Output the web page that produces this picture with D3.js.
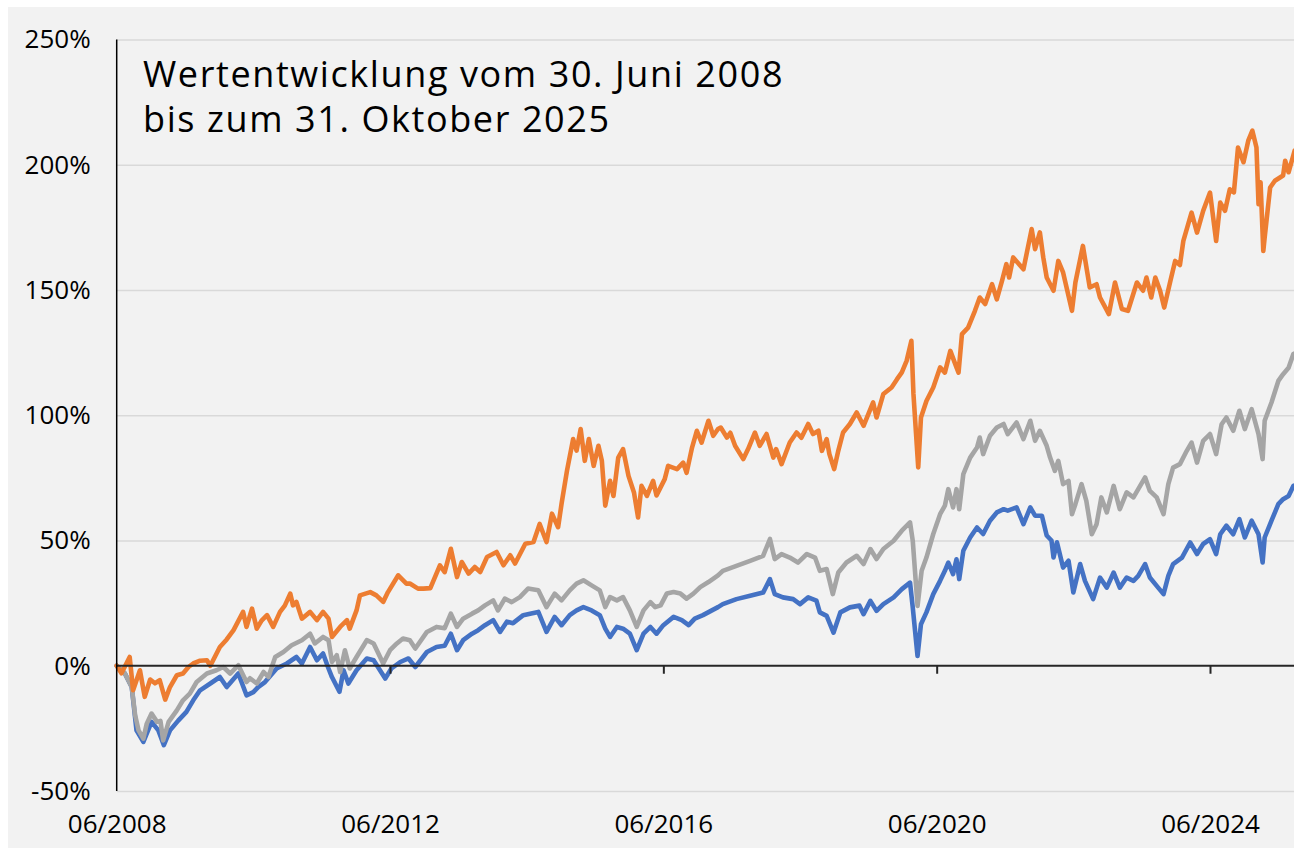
<!DOCTYPE html>
<html>
<head>
<meta charset="utf-8">
<script src="https://cdn.jsdelivr.net/npm/d3@7"></script>
<style>
  html, body { margin: 0; padding: 0; background: #fff; }
  svg { display: block; font-family: "Open Sans", sans-serif; }
  .grid line { stroke: #d9d9d9; stroke-width: 1.3; }
  .label text { font-family: "Open Sans", sans-serif; font-size: 26px; fill: #000; }
  .title { font-family: "Open Sans", sans-serif; font-size: 36px; letter-spacing: 1.6px; fill: #000; }
  .series { fill: none; stroke-width: 4.6; stroke-linejoin: round; stroke-linecap: round; }
</style>
</head>
<body>
<div id="chart"></div>
<script>
  // decimal year, percent
  var orange = [
    [2008.50, 0], [2008.57, -3.0], [2008.69, 3.5], [2008.74, -9.8], [2008.84, -1.8], [2008.91, -12.4],
    [2008.99, -5.5], [2009.06, -7.0], [2009.13, -5.8], [2009.21, -13.5], [2009.28, -8.5], [2009.38, -3.8],
    [2009.47, -3.1], [2009.55, -0.5], [2009.62, 0.9], [2009.72, 2.0], [2009.82, 2.2], [2009.87, 0.0],
    [2010.01, 7.5], [2010.11, 10.5], [2010.21, 14.2], [2010.35, 21.5], [2010.40, 15.5], [2010.48, 22.8],
    [2010.55, 14.8], [2010.62, 18.0], [2010.70, 20.2], [2010.79, 15.5], [2010.89, 21.5], [2010.96, 24.0],
    [2011.04, 28.8], [2011.08, 24.1], [2011.13, 25.5], [2011.21, 18.8], [2011.33, 21.5], [2011.43, 18.2],
    [2011.52, 21.5], [2011.60, 18.8], [2011.65, 11.5], [2011.77, 15.5], [2011.87, 18.2], [2011.91, 14.8],
    [2012.01, 22.1], [2012.06, 28.1], [2012.21, 29.4], [2012.30, 28.1], [2012.40, 25.5], [2012.47, 29.4],
    [2012.62, 36.1], [2012.74, 32.8], [2012.79, 32.8], [2012.91, 30.8], [2012.99, 30.8], [2013.09, 31.0],
    [2013.23, 40.1], [2013.30, 37.4], [2013.39, 46.7], [2013.48, 35.4], [2013.55, 41.4], [2013.65, 36.8],
    [2013.74, 39.4], [2013.82, 37.4], [2013.92, 43.4], [2014.06, 45.4], [2014.16, 40.1], [2014.26, 44.1],
    [2014.33, 40.8], [2014.48, 48.7], [2014.60, 49.4], [2014.69, 56.6], [2014.79, 49.4], [2014.87, 60.7],
    [2014.96, 55.3], [2015.01, 64.6], [2015.09, 77.9], [2015.18, 90.5], [2015.23, 85.9], [2015.29, 94.5],
    [2015.35, 81.8], [2015.41, 90.5], [2015.48, 79.8], [2015.55, 87.8], [2015.60, 81.8], [2015.65, 63.9],
    [2015.72, 73.8], [2015.77, 67.8], [2015.84, 83.1], [2015.91, 86.5], [2015.99, 75.8], [2016.07, 69.2],
    [2016.13, 59.2], [2016.18, 71.8], [2016.26, 67.8], [2016.35, 73.8], [2016.40, 68.0], [2016.52, 74.5],
    [2016.57, 79.8], [2016.70, 78.5], [2016.79, 81.1], [2016.84, 77.0], [2016.92, 87.1], [2016.99, 93.8],
    [2017.06, 89.1], [2017.16, 97.8], [2017.23, 91.8], [2017.30, 94.5], [2017.34, 95.1], [2017.43, 91.1],
    [2017.48, 93.0], [2017.55, 87.8], [2017.67, 82.5], [2017.74, 86.5], [2017.84, 93.1], [2017.91, 87.8],
    [2018.01, 92.5], [2018.11, 83.1], [2018.15, 86.5], [2018.23, 80.5], [2018.35, 89.1], [2018.45, 93.1],
    [2018.52, 91.0], [2018.62, 96.5], [2018.69, 92.5], [2018.77, 93.8], [2018.82, 85.8], [2018.89, 90.5],
    [2018.93, 84.5], [2019.00, 78.5], [2019.06, 85.8], [2019.13, 93.1], [2019.23, 96.5], [2019.33, 101.1],
    [2019.43, 95.8], [2019.57, 105.1], [2019.62, 99.1], [2019.72, 108.5], [2019.84, 111.1], [2019.92, 114.4],
    [2019.99, 117.1], [2020.06, 121.7], [2020.13, 129.7], [2020.16, 108.5], [2020.23, 79.2], [2020.27, 99.1],
    [2020.35, 105.7], [2020.45, 111.1], [2020.55, 119.1], [2020.62, 117.0], [2020.70, 125.7], [2020.79, 119.1],
    [2020.82, 117.0], [2020.87, 132.4], [2020.96, 135.0], [2021.06, 141.7], [2021.13, 147.0], [2021.21, 144.4],
    [2021.31, 152.3], [2021.38, 146.3], [2021.46, 154.0], [2021.52, 160.3], [2021.56, 155.0], [2021.62, 163.0],
    [2021.77, 158.3], [2021.89, 174.3], [2021.94, 166.3], [2022.01, 173.0], [2022.06, 163.0], [2022.11, 155.0],
    [2022.21, 149.7], [2022.28, 161.6], [2022.35, 157.0], [2022.48, 141.7], [2022.53, 153.0], [2022.64, 167.6],
    [2022.74, 151.0], [2022.84, 152.3], [2022.89, 147.0], [2023.02, 140.4], [2023.11, 153.0], [2023.21, 142.4],
    [2023.30, 141.7], [2023.43, 153.0], [2023.52, 149.7], [2023.57, 155.0], [2023.64, 147.0], [2023.70, 155.0],
    [2023.77, 149.7], [2023.83, 143.0], [2023.92, 153.6], [2023.99, 161.6], [2024.06, 160.0], [2024.11, 169.6],
    [2024.23, 180.9], [2024.31, 172.9], [2024.40, 181.6], [2024.50, 188.9], [2024.59, 169.6], [2024.65, 184.9],
    [2024.72, 181.6], [2024.79, 190.2], [2024.85, 189.0], [2024.91, 206.9], [2024.99, 201.0], [2025.06, 209.6],
    [2025.12, 213.6], [2025.18, 206.9], [2025.21, 184.3], [2025.24, 193.0], [2025.28, 165.6], [2025.30, 171.0],
    [2025.38, 190.9], [2025.45, 193.6], [2025.57, 195.7], [2025.60, 201.6], [2025.65, 197.0], [2025.74, 205.7],
    [2025.83, 207.0]
  ];

  var gray = [
    [2008.50, 0], [2008.62, -3.1], [2008.72, -8.5], [2008.77, -19.8], [2008.82, -25.8], [2008.89, -29.1],
    [2008.94, -23.1], [2009.01, -19.1], [2009.09, -22.4], [2009.14, -22.0], [2009.18, -29.8], [2009.26, -22.4],
    [2009.38, -17.8], [2009.47, -13.8], [2009.57, -11.1], [2009.67, -6.5], [2009.82, -3.1], [2009.96, -1.8],
    [2010.06, -0.5], [2010.16, -3.1], [2010.28, 0.2], [2010.40, -6.5], [2010.45, -5.0], [2010.55, -7.1],
    [2010.65, -2.5], [2010.72, -4.5], [2010.82, 3.5], [2010.94, 5.5], [2011.06, 8.2], [2011.21, 10.2],
    [2011.33, 12.8], [2011.40, 8.9], [2011.52, 11.5], [2011.60, 10.2], [2011.65, 1.5], [2011.72, 4.2],
    [2011.77, -2.5], [2011.84, 6.2], [2011.91, -1.1], [2012.01, 3.5], [2012.16, 10.2], [2012.26, 8.9],
    [2012.40, 0.9], [2012.50, 6.2], [2012.60, 8.9], [2012.69, 10.9], [2012.79, 10.2], [2012.87, 6.9],
    [2013.04, 13.5], [2013.18, 15.5], [2013.30, 15.0], [2013.39, 20.8], [2013.48, 15.5], [2013.57, 18.8],
    [2013.70, 20.8], [2013.79, 22.1], [2013.89, 24.1], [2014.01, 26.1], [2014.08, 22.1], [2014.18, 26.8],
    [2014.28, 25.4], [2014.40, 27.4], [2014.52, 30.8], [2014.67, 30.1], [2014.79, 23.4], [2014.91, 28.8],
    [2015.01, 26.1], [2015.13, 30.1], [2015.23, 32.8], [2015.33, 34.1], [2015.45, 32.1], [2015.57, 30.1],
    [2015.65, 23.4], [2015.72, 27.4], [2015.82, 26.1], [2015.91, 27.4], [2016.01, 22.1], [2016.11, 15.5],
    [2016.21, 22.1], [2016.31, 25.4], [2016.38, 23.4], [2016.46, 24.1], [2016.55, 28.8], [2016.65, 29.4],
    [2016.75, 28.8], [2016.84, 26.8], [2016.94, 28.8], [2017.04, 31.4], [2017.16, 33.4], [2017.30, 36.1],
    [2017.37, 37.9], [2017.57, 39.9], [2017.77, 41.9], [2017.96, 43.9], [2018.06, 50.6], [2018.13, 42.6],
    [2018.23, 44.6], [2018.35, 43.2], [2018.47, 41.2], [2018.60, 44.6], [2018.72, 43.2], [2018.79, 37.9],
    [2018.89, 38.6], [2018.98, 28.6], [2019.06, 37.2], [2019.18, 41.2], [2019.33, 43.9], [2019.43, 40.6],
    [2019.53, 46.6], [2019.62, 42.6], [2019.72, 46.6], [2019.87, 49.9], [2019.99, 53.9], [2020.11, 57.2],
    [2020.15, 49.9], [2020.22, 23.9], [2020.28, 37.9], [2020.35, 43.2], [2020.45, 52.6], [2020.55, 60.5],
    [2020.62, 63.9], [2020.67, 70.5], [2020.74, 63.2], [2020.79, 70.5], [2020.83, 62.5], [2020.89, 76.5],
    [2020.99, 83.1], [2021.09, 87.1], [2021.13, 91.1], [2021.18, 84.5], [2021.28, 91.8], [2021.38, 95.1],
    [2021.48, 96.5], [2021.54, 92.5], [2021.67, 97.1], [2021.77, 90.5], [2021.87, 97.8], [2021.94, 89.8],
    [2022.01, 93.8], [2022.11, 87.8], [2022.16, 83.1], [2022.23, 77.8], [2022.28, 81.8], [2022.35, 72.5],
    [2022.43, 73.8], [2022.48, 60.5], [2022.53, 64.5], [2022.62, 72.5], [2022.69, 65.8], [2022.77, 52.5],
    [2022.84, 56.5], [2022.91, 67.2], [2022.99, 61.2], [2023.09, 71.8], [2023.18, 62.5], [2023.28, 69.2],
    [2023.38, 67.2], [2023.45, 70.5], [2023.55, 75.2], [2023.62, 69.8], [2023.72, 67.2], [2023.82, 60.5],
    [2023.89, 72.5], [2023.96, 79.1], [2024.06, 80.5], [2024.16, 85.8], [2024.23, 89.1], [2024.31, 81.1],
    [2024.40, 89.8], [2024.50, 92.5], [2024.59, 84.5], [2024.67, 96.4], [2024.74, 99.1], [2024.84, 93.8],
    [2024.93, 101.8], [2025.01, 94.5], [2025.11, 102.4], [2025.21, 92.5], [2025.27, 82.5], [2025.30, 97.8],
    [2025.40, 105.1], [2025.50, 113.7], [2025.57, 116.4], [2025.65, 119.0], [2025.72, 124.4], [2025.83, 126.0]
  ];

  var blue = [
    [2008.50, 0], [2008.62, -3.1], [2008.72, -8.5], [2008.79, -25.8], [2008.89, -30.4], [2009.01, -22.4],
    [2009.11, -25.8], [2009.19, -31.7], [2009.28, -25.8], [2009.40, -21.9], [2009.52, -18.4], [2009.62, -13.8],
    [2009.72, -9.8], [2009.87, -7.1], [2010.01, -4.5], [2010.11, -8.5], [2010.28, -3.1], [2010.40, -11.8],
    [2010.50, -10.5], [2010.57, -8.5], [2010.67, -6.5], [2010.84, -1.1], [2010.99, 0.9], [2011.13, 3.5],
    [2011.21, 0.9], [2011.33, 7.5], [2011.43, 2.2], [2011.52, 4.9], [2011.60, -1.1], [2011.65, -4.5],
    [2011.76, -10.4], [2011.82, -1.8], [2011.89, -7.1], [2012.01, -1.8], [2012.16, 2.9], [2012.26, 2.2],
    [2012.43, -5.1], [2012.52, -1.1], [2012.65, 1.5], [2012.77, 2.9], [2012.87, -0.5], [2013.04, 5.5],
    [2013.18, 7.5], [2013.30, 8.0], [2013.39, 12.8], [2013.48, 6.2], [2013.57, 10.2], [2013.70, 12.8],
    [2013.79, 14.2], [2013.89, 16.2], [2014.01, 18.2], [2014.11, 13.5], [2014.21, 17.6], [2014.30, 17.0],
    [2014.45, 20.2], [2014.55, 20.8], [2014.67, 21.5], [2014.79, 13.5], [2014.91, 19.5], [2015.01, 16.2],
    [2015.13, 20.2], [2015.23, 22.1], [2015.33, 23.4], [2015.45, 22.1], [2015.57, 20.2], [2015.65, 14.8],
    [2015.72, 11.5], [2015.82, 15.5], [2015.91, 14.8], [2016.01, 12.8], [2016.11, 6.2], [2016.21, 12.8],
    [2016.31, 15.5], [2016.40, 12.8], [2016.50, 16.2], [2016.65, 19.5], [2016.77, 18.2], [2016.87, 16.2],
    [2016.96, 18.8], [2017.08, 20.2], [2017.21, 22.1], [2017.30, 23.4], [2017.37, 24.6], [2017.57, 26.6],
    [2017.77, 27.9], [2017.96, 29.2], [2018.06, 34.6], [2018.13, 28.6], [2018.25, 27.3], [2018.40, 26.6],
    [2018.50, 24.6], [2018.62, 27.3], [2018.74, 26.0], [2018.79, 21.3], [2018.89, 19.9], [2018.99, 13.2],
    [2019.09, 21.3], [2019.23, 23.3], [2019.37, 24.0], [2019.43, 20.6], [2019.53, 25.9], [2019.62, 21.9],
    [2019.72, 24.6], [2019.87, 27.3], [2019.99, 30.6], [2020.11, 33.2], [2020.15, 23.3], [2020.22, 3.9],
    [2020.27, 16.6], [2020.35, 21.3], [2020.45, 28.6], [2020.55, 33.9], [2020.62, 37.9], [2020.67, 41.2],
    [2020.74, 36.6], [2020.79, 42.5], [2020.83, 34.6], [2020.89, 45.9], [2020.99, 51.2], [2021.09, 55.2],
    [2021.18, 52.6], [2021.28, 57.9], [2021.38, 61.2], [2021.48, 62.5], [2021.54, 61.9], [2021.67, 63.2],
    [2021.77, 56.5], [2021.87, 63.2], [2021.94, 59.9], [2022.04, 59.9], [2022.11, 52.0], [2022.18, 50.0],
    [2022.21, 43.2], [2022.26, 49.3], [2022.35, 39.2], [2022.43, 41.9], [2022.50, 29.3], [2022.60, 40.6],
    [2022.67, 33.9], [2022.79, 26.6], [2022.89, 35.2], [2022.99, 31.2], [2023.09, 37.2], [2023.18, 31.2],
    [2023.28, 35.2], [2023.38, 33.9], [2023.45, 35.9], [2023.55, 40.6], [2023.62, 35.2], [2023.72, 31.9],
    [2023.82, 28.6], [2023.89, 35.9], [2023.96, 40.6], [2024.09, 43.2], [2024.21, 49.2], [2024.31, 44.6],
    [2024.40, 48.6], [2024.50, 50.5], [2024.59, 44.6], [2024.65, 52.5], [2024.74, 55.9], [2024.84, 52.5],
    [2024.93, 58.5], [2025.01, 51.2], [2025.11, 57.9], [2025.21, 52.5], [2025.27, 41.2], [2025.30, 51.2],
    [2025.40, 57.9], [2025.50, 64.5], [2025.57, 66.5], [2025.65, 67.8], [2025.72, 71.8], [2025.83, 73.0]
  ];

  var yTicks = [-50, 0, 50, 100, 150, 200, 250];
  var xTicks = [2008.5, 2012.5, 2016.5, 2020.5, 2024.5];
  var xTickLabels = ['06/2008', '06/2012', '06/2016', '06/2020', '06/2024'];
  var titleLines = ['Wertentwicklung vom 30. Juni 2008', 'bis zum 31. Oktober 2025'];

  var width = 1294, height = 849;

  var chart = d3.select('#chart')
    .append('svg')
    .attr('width', width)
    .attr('height', height);

  chart.append('rect')
    .attr('x', 8)
    .attr('y', 7)
    .attr('width', width - 8)
    .attr('height', height - 8)
    .attr('fill', '#f2f2f2');

  var x = d3.scaleLinear()
    .domain([2008.5, 2024.5])
    .range([116.7, 1210]);

  var y = d3.scaleLinear()
    .domain([-50, 250])
    .range([791, 39.5]);

  function cleanAxis( g ) {
    g.attr('font-family', null).attr('font-size', null);
    g.select('.domain').remove();
  }

  // gridlines
  chart.append('g')
    .classed('grid', true)
    .attr('transform', 'translate(' + x(2008.5) + ',0)')
    .call(d3.axisLeft(y).tickValues(yTicks.filter(function (d) { return d !== 0; }))
      .tickSize(-(width - x(2008.5))).tickFormat(''))
    .call(cleanAxis);

  // y labels
  chart.append('g')
    .classed('label', true)
    .attr('transform', 'translate(' + x(2008.5) + ',0)')
    .call(d3.axisLeft(y).tickValues(yTicks).tickSize(0).tickPadding(26)
      .tickFormat(function (d) { return d + '%'; }))
    .call(cleanAxis);

  // x labels at the bottom
  chart.append('g')
    .classed('label', true)
    .attr('transform', 'translate(0,' + y(-50) + ')')
    .call(d3.axisBottom(x).tickValues(xTicks).tickSize(0).tickPadding(24)
      .tickFormat(function (d, i) { return xTickLabels[i]; }))
    .call(cleanAxis);

  // series
  var line = d3.line()
    .x(function (d) { return x(d[0]); })
    .y(function (d) { return y(d[1]); });

  var series = [
    { data: blue, color: '#4472c4' },
    { data: gray, color: '#a5a5a5' },
    { data: orange, color: '#ed7d31' }
  ];

  chart.selectAll('.series')
    .data(series)
    .enter()
    .append('path')
    .classed('series', true)
    .attr('d', function (d) { return line(d.data); })
    .style('stroke', function (d) { return d.color; });

  // zero line with ticks
  chart.append('line')
    .attr('x1', x(2008.5))
    .attr('x2', width)
    .attr('y1', y(0))
    .attr('y2', y(0))
    .attr('stroke', '#262626')
    .attr('stroke-width', 2);

  chart.append('g')
    .attr('transform', 'translate(0,' + y(0) + ')')
    .call(d3.axisBottom(x).tickValues(xTicks.slice(1)).tickSize(8).tickFormat(''))
    .call(function (g) {
      g.select('.domain').remove();
      g.selectAll('line').attr('stroke', '#262626').attr('stroke-width', 2);
    });

  // y axis line
  chart.append('line')
    .attr('x1', x(2008.5))
    .attr('x2', x(2008.5))
    .attr('y1', y(250))
    .attr('y2', y(-50))
    .attr('stroke', '#000')
    .attr('stroke-width', 1.5);

  chart.append('text')
    .classed('title', true)
    .selectAll('tspan')
    .data(titleLines)
    .enter()
    .append('tspan')
    .attr('x', 143)
    .attr('y', function (d, i) { return 87 + i * 45; })
    .text(function (d) { return d; });
</script>
</body>
</html>
